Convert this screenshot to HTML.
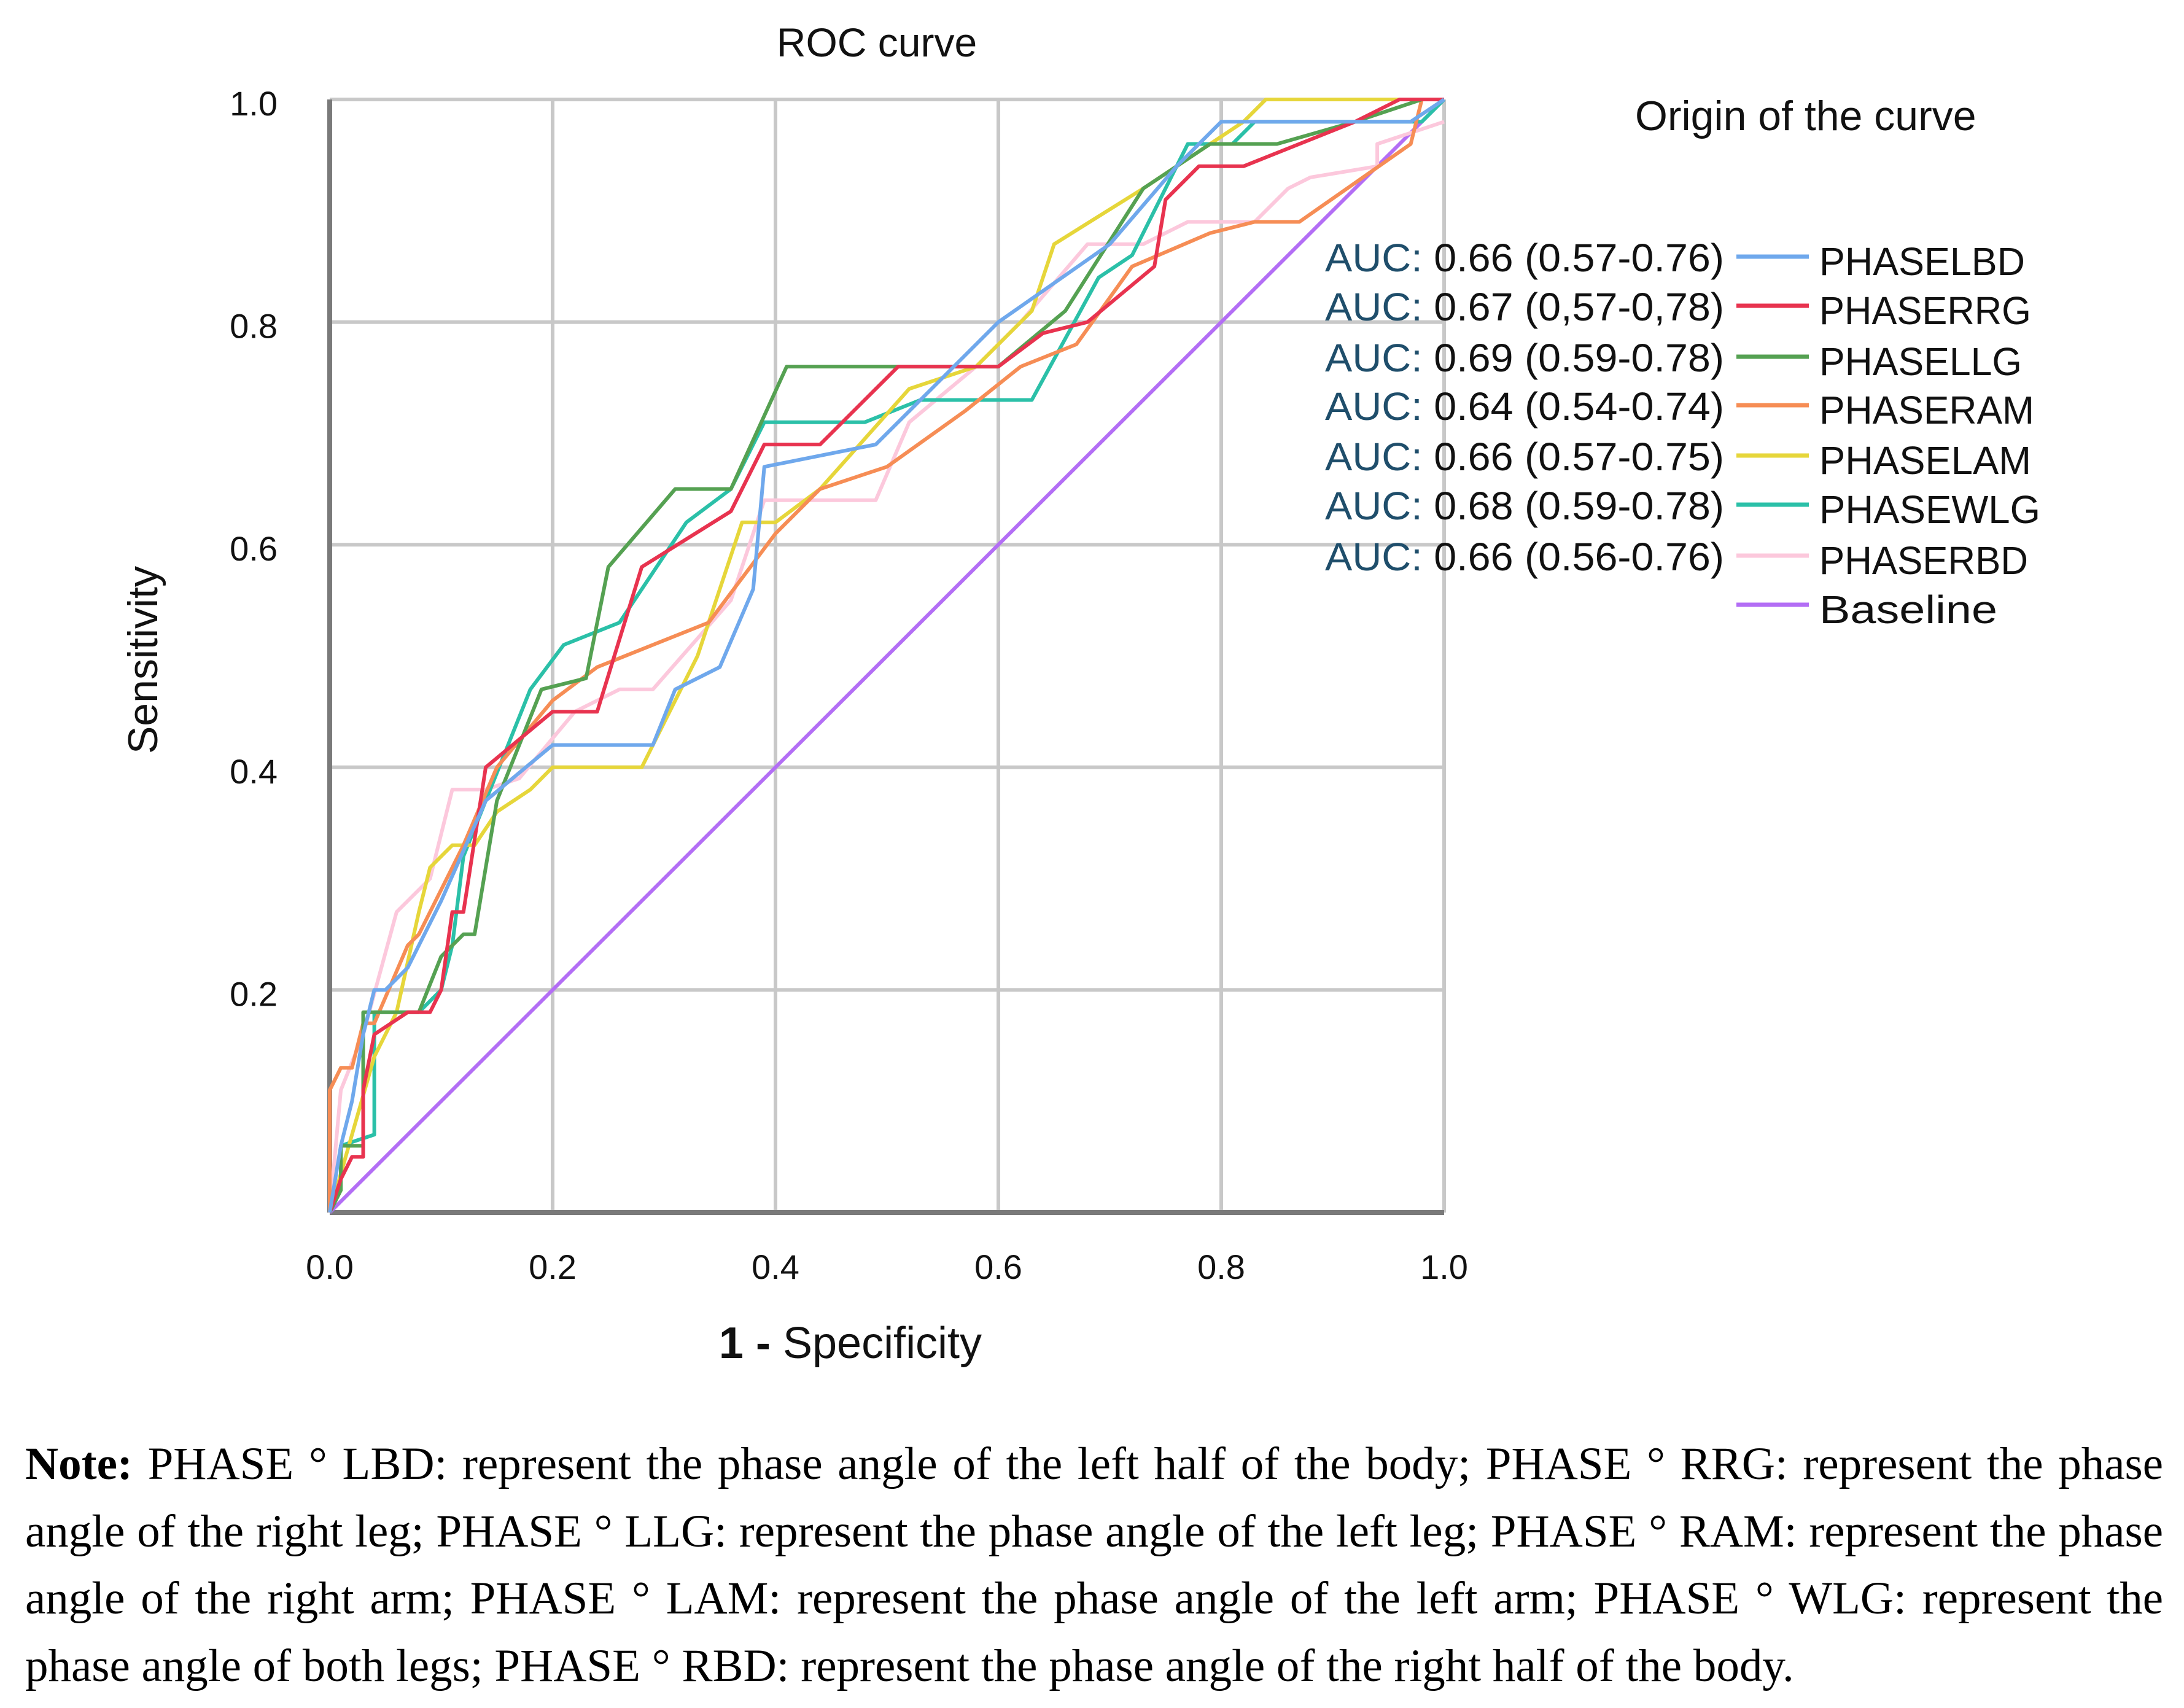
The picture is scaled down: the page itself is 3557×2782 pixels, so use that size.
<!DOCTYPE html>
<html><head><meta charset="utf-8"><style>
html,body{margin:0;padding:0;background:#fff;}
svg{display:block;}
.note{position:absolute;left:41px;top:2330px;width:3482px;font-family:"Liberation Serif",serif;font-size:75px;line-height:109.5px;text-align:justify;color:#000;}
</style></head><body>
<div style="position:relative;width:3557px;height:2782px;overflow:hidden;">
<svg id="chart" width="3557" height="2782" font-family="Liberation Sans, sans-serif"></svg>
<div class="note"><b>Note:</b> PHASE ° LBD: represent the phase angle of the left half of the body; PHASE ° RRG: represent the phase angle of the right leg; PHASE ° LLG: represent the phase angle of the left leg; PHASE ° RAM: represent the phase angle of the right arm; PHASE ° LAM: represent the phase angle of the left arm; PHASE ° WLG: represent the phase angle of both legs; PHASE ° RBD: represent the phase angle of the right half of the body.</div>
</div>
<script>
const seriesNames = ["PHASELBD","PHASERRG","PHASELLG","PHASERAM","PHASELAM","PHASEWLG","PHASERBD","Baseline"];
const aucLabels = ["0.66 (0.57-0.76)","0.67 (0,57-0,78)","0.69 (0.59-0.78)","0.64 (0.54-0.74)","0.66 (0.57-0.75)","0.68 (0.59-0.78)","0.66 (0.56-0.76)",""];
const tickValues = [0,0.2,0.4,0.6,0.8,1.0];
const tickLabels = ["0.0","0.2","0.4","0.6","0.8","1.0"];
const lbdX = [0,0.01,0.02,0.03,0.04,0.05,0.07,0.1,0.14,0.2,0.29,0.31,0.35,0.38,0.39,0.49,0.55,0.6,0.7,0.76,0.8,0.97,1];
const lbdY = [0,0.06,0.1,0.16,0.2,0.2,0.22,0.28,0.37,0.42,0.42,0.47,0.49,0.56,0.67,0.69,0.75,0.8,0.87,0.94,0.98,0.98,1];
const rrgX = [0,0.01,0.02,0.03,0.03,0.04,0.07,0.09,0.1,0.11,0.12,0.14,0.2,0.24,0.28,0.36,0.39,0.44,0.51,0.6,0.64,0.68,0.74,0.75,0.78,0.82,0.92,0.96,1];
const rrgY = [0,0.03,0.05,0.05,0.11,0.16,0.18,0.18,0.2,0.27,0.27,0.4,0.45,0.45,0.58,0.63,0.69,0.69,0.76,0.76,0.79,0.8,0.85,0.91,0.94,0.94,0.98,1,1];
const llgX = [0,0.01,0.01,0.03,0.03,0.08,0.1,0.12,0.13,0.14,0.15,0.19,0.23,0.25,0.31,0.36,0.41,0.6,0.66,0.73,0.79,0.85,0.92,0.98,1];
const llgY = [0,0.02,0.06,0.06,0.18,0.18,0.23,0.25,0.25,0.31,0.37,0.47,0.48,0.58,0.65,0.65,0.76,0.76,0.81,0.92,0.96,0.96,0.98,1,1];
const ramX = [0,0,0.01,0.02,0.03,0.04,0.07,0.08,0.12,0.15,0.2,0.24,0.34,0.4,0.44,0.5,0.57,0.62,0.67,0.72,0.79,0.83,0.87,0.97,0.98,1];
const ramY = [0,0.11,0.13,0.13,0.17,0.17,0.24,0.25,0.33,0.4,0.46,0.49,0.53,0.61,0.65,0.67,0.72,0.76,0.78,0.85,0.88,0.89,0.89,0.96,1,1];
const lamX = [0,0.02,0.04,0.06,0.08,0.09,0.11,0.13,0.15,0.18,0.2,0.28,0.33,0.37,0.4,0.44,0.52,0.58,0.63,0.65,0.73,0.82,0.84,1];
const lamY = [0,0.07,0.14,0.18,0.27,0.31,0.33,0.33,0.36,0.38,0.4,0.4,0.5,0.62,0.62,0.65,0.74,0.76,0.81,0.87,0.92,0.98,1,1];
const wlgX = [0,0.01,0.01,0.04,0.04,0.08,0.1,0.11,0.12,0.14,0.18,0.21,0.26,0.32,0.36,0.39,0.48,0.53,0.63,0.69,0.72,0.77,0.81,0.83,0.98,1];
const wlgY = [0,0.03,0.06,0.07,0.18,0.18,0.2,0.24,0.32,0.37,0.47,0.51,0.53,0.62,0.65,0.71,0.71,0.73,0.73,0.84,0.86,0.96,0.96,0.98,0.98,1];
const rbdX = [0,0.01,0.03,0.06,0.09,0.11,0.14,0.17,0.22,0.26,0.29,0.36,0.39,0.49,0.52,0.58,0.62,0.68,0.73,0.77,0.83,0.86,0.88,0.94,0.94,1];
const rbdY = [0,0.11,0.16,0.27,0.3,0.38,0.38,0.39,0.45,0.47,0.47,0.55,0.64,0.64,0.71,0.76,0.8,0.87,0.87,0.89,0.89,0.92,0.93,0.94,0.96,0.98];
const baseX = [0,1];
const baseY = [0,1];

const colors = ["#6fa8ec","#e8334f","#55a152","#f68d55","#e6d63a","#2bc0a8","#fcc8dc","#b36ef5"];
const seriesX = [lbdX,rrgX,llgX,ramX,lamX,wlgX,rbdX,baseX];
const seriesY = [lbdY,rrgY,llgY,ramY,lamY,wlgY,rbdY,baseY];

const NS="http://www.w3.org/2000/svg";
const svg=document.getElementById('chart');
const X0=537,X1=2352,Y0=1975,Y1=162;
const sx=v=>X0+v*(X1-X0);
const sy=v=>Y0-v*(Y0-Y1);
function mk(tag,attrs,parent){const e=document.createElementNS(NS,tag);for(const k in attrs)e.setAttribute(k,attrs[k]);(parent||svg).appendChild(e);return e;}

const t=mk('text',{x:1428,y:92,'font-size':66,'text-anchor':'middle',fill:'#111'});


t.textContent='ROC curve';

const grid=mk('g',{});


tickValues.forEach((v,i)=>{
  if(i>0){
    const gx=mk('line',{x1:sx(v),x2:sx(v),y1:Y1,y2:Y0,stroke:'#c8c8c8','stroke-width':6},grid);
    
    
    const gy=mk('line',{x1:X0,x2:X1,y1:sy(v),y2:sy(v),stroke:'#c8c8c8','stroke-width':6},grid);
    
    
  }
  const xl=mk('text',{x:sx(v),y:2083,'font-size':56,'text-anchor':'middle',fill:'#111'});
  
  
  xl.textContent=tickLabels[i];
  if(i>0){
    const yl=mk('text',{x:452,y:sy(v)+26,'font-size':56,'text-anchor':'end',fill:'#111'});
    
    
    yl.textContent=tickLabels[i];
  }
});
const ax=mk('line',{x1:X0,x2:X1,y1:Y0,y2:Y0,stroke:'#7a7a7a','stroke-width':8});


const ay=mk('line',{x1:X0,x2:X0,y1:Y1,y2:Y0,stroke:'#7a7a7a','stroke-width':8});



const xt=mk('text',{x:1385,y:2212,'font-size':72,'text-anchor':'middle',fill:'#111'});


xt.innerHTML='<tspan font-weight="bold">1 - </tspan> Specificity';
const yt=mk('text',{x:0,y:0,'font-size':68,'text-anchor':'middle',fill:'#111',transform:'translate(256,1075) rotate(-90)'});


yt.textContent='Sensitivity';

const order=[7,6,5,4,3,2,1,0];
order.forEach(i=>{
  const xs=seriesX[i],ys=seriesY[i];
  const pts=xs.map((x,j)=>sx(x).toFixed(1)+','+sy(ys[j]).toFixed(1)).join(' ');
  const p=mk('polyline',{points:pts,fill:'none',stroke:colors[i],'stroke-width':6,'stroke-linejoin':'round'});
  
  
});

const lt=mk('text',{x:2663,y:212,'font-size':68,fill:'#111'});


lt.textContent='Origin of the curve';
const rowY=[418,498,581,660,742,822,905,985];
seriesNames.forEach((n,i)=>{
  const g=mk('g',{});
  
  
  mk('line',{x1:2828,x2:2946,y1:rowY[i],y2:rowY[i],stroke:colors[i],'stroke-width':7},g);
  const tx=mk('text',{x:2963,y:rowY[i]+30,'font-size':64,fill:'#111',textLength:(n==='Baseline'?290:[335,345,330,350,345,360,340][i]),lengthAdjust:'spacingAndGlyphs'},g);
  tx.textContent=n;
  if(aucLabels[i]){
    const at=mk('text',{x:2808,y:rowY[i]+24,'font-size':64,'text-anchor':'end',fill:'#111',textLength:650,lengthAdjust:'spacingAndGlyphs'},g);
    at.innerHTML='<tspan fill="#1f4e6b">AUC: </tspan>'+aucLabels[i];
  }
});
</script>
</body></html>
